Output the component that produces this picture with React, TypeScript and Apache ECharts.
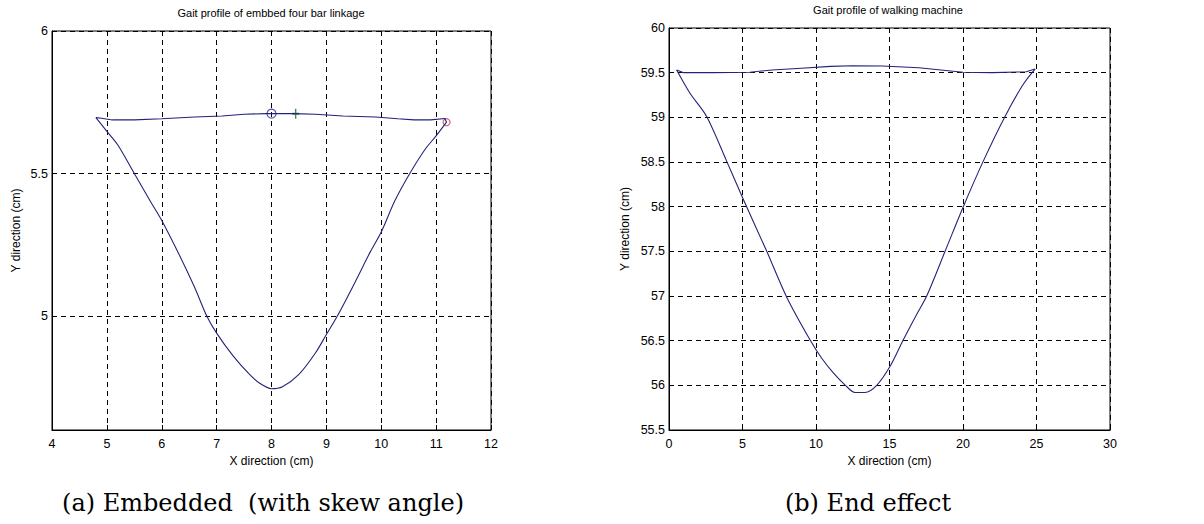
import React, { useEffect, useRef } from "react";
import * as echarts from "echarts";

// ---------- data ----------
const leftTitle = "Gait profile of embbed four bar linkage";
const rightTitle = "Gait profile of walking machine";
const xName = "X direction (cm)";
const yName = "Y direction (cm)";
const captionA = "(a) Embedded  (with skew angle)";
const captionB = "(b) End effect";

const leftYTicks = [5, 5.5, 6];

// left plot: swing (lower) curve, from left corner to right corner
const leftLowerCurve: [number, number][] = [
  [4.8, 5.696], [5.0, 5.648], [5.2, 5.6], [5.5, 5.5], [5.8, 5.4], [6.0, 5.335],
  [6.3, 5.222], [6.6, 5.1], [6.82, 5.0], [7.0, 4.94], [7.3, 4.86], [7.6, 4.795],
  [7.8, 4.762], [8.0, 4.745], [8.2, 4.752], [8.5, 4.795], [8.8, 4.87], [9.0, 4.935],
  [9.2, 5.0], [9.5, 5.11], [9.8, 5.225], [10.0, 5.295], [10.25, 5.405], [10.52, 5.5],
  [10.8, 5.585], [11.0, 5.632], [11.19, 5.68],
];
// left plot: stance (top) line, from right corner back to left corner
const leftTopLine: [number, number][] = [
  [11.19, 5.68], [11.16, 5.693], [10.9, 5.688], [10.6, 5.688], [10.3, 5.692],
  [9.9, 5.698], [9.3, 5.702], [8.8, 5.708], [8.4, 5.71], [7.9, 5.71], [7.5, 5.708],
  [7.1, 5.702], [6.6, 5.698], [6.0, 5.692], [5.5, 5.688], [5.1, 5.688], [4.9, 5.694],
  [4.8, 5.696],
];
const leftCircleMark: [number, number][] = [[8.0, 5.71]];
const leftPlusMark: [number, number][] = [[8.44, 5.71]];
const leftRedMark: [number, number][] = [[11.19, 5.68]];

// right plot
const rightLowerCurve: [number, number][] = [
  [0.52, 59.53], [1.43, 59.27], [2.56, 59.01], [3.92, 58.51], [5.06, 58.08],
  [6.65, 57.5], [8.0, 56.99], [9.59, 56.51], [10.4, 56.3],
  [11.18, 56.14], [12.0, 56.0], [12.65, 55.92], [13.33, 55.92], [14.13, 56.0],
  [15.03, 56.21], [15.94, 56.51], [16.8, 56.78], [17.53, 57.0], [18.78, 57.5],
  [20.02, 58.0], [21.38, 58.51], [22.86, 59.01], [24.1, 59.37],
  [24.9, 59.54],
];
const rightTopLine: [number, number][] = [
  [24.9, 59.54], [24.3, 59.51], [22.0, 59.5], [20.0, 59.505], [18.5, 59.53],
  [17.0, 59.555], [14.5, 59.575], [12.5, 59.578], [11.0, 59.57], [9.0, 59.55],
  [7.0, 59.53], [5.5, 59.505], [3.0, 59.5], [1.0, 59.5], [0.52, 59.53],
];

// ---------- styles ----------
const lineColor = "#23237a";
const sansFont = "Liberation Sans";
const serifFont = "DejaVu Serif";

const gridLine = { show: true, lineStyle: { color: "#000", type: [5, 4] as any, width: 1 } };
const axisLineStyle = { show: true, lineStyle: { color: "#000", width: 1 } };
const tickStyle = { show: true, inside: true, length: 5, lineStyle: { color: "#000" } };
const labelStyle = { color: "#000", fontSize: 12.5, fontFamily: sansFont };
const nameStyle = { color: "#000", fontSize: 12, fontFamily: sansFont };

export default function App() {
  const ref = useRef<HTMLDivElement>(null);
  useEffect(() => {
    if (!ref.current) return;
    const chart = echarts.init(ref.current, null, { renderer: "svg" });
    const lineSeries = (data: [number, number][], idx: number, smooth: number) => ({
      type: "line",
      xAxisIndex: idx,
      yAxisIndex: idx,
      data,
      showSymbol: false,
      symbol: "none",
      smooth,
      lineStyle: { color: lineColor, width: 1.1 },
      silent: true,
    });
    chart.setOption({
      animation: false,
      backgroundColor: "#fff",
      grid: [
        { left: 52, top: 31, width: 439, height: 399, show: true, borderColor: "#000", borderWidth: 1 },
        { left: 669, top: 28, width: 441, height: 402, show: true, borderColor: "#000", borderWidth: 1 },
      ],
      xAxis: [
        {
          type: "value", gridIndex: 0, min: 4, max: 12, interval: 1,
          axisLine: axisLineStyle, axisTick: tickStyle, splitLine: gridLine,
          axisLabel: { ...labelStyle, margin: 7 },
          name: xName, nameLocation: "middle", nameGap: 25, nameTextStyle: nameStyle,
        },
        {
          type: "value", gridIndex: 1, min: 0, max: 30, interval: 5,
          axisLine: axisLineStyle, axisTick: tickStyle, splitLine: gridLine,
          axisLabel: { ...labelStyle, margin: 7 },
          name: xName, nameLocation: "middle", nameGap: 25, nameTextStyle: nameStyle,
        },
      ],
      yAxis: [
        {
          type: "value", gridIndex: 0, min: 4.6, max: 6,
          axisLine: axisLineStyle,
          axisTick: { ...tickStyle, customValues: leftYTicks },
          splitLine: gridLine,
          axisLabel: { ...labelStyle, margin: 4, customValues: leftYTicks },
          name: yName, nameLocation: "middle", nameGap: 30, nameTextStyle: nameStyle,
        },
        {
          type: "value", gridIndex: 1, min: 55.5, max: 60, interval: 0.5,
          axisLine: axisLineStyle, axisTick: tickStyle, splitLine: gridLine,
          axisLabel: { ...labelStyle, margin: 4 },
          name: yName, nameLocation: "middle", nameGap: 38, nameTextStyle: nameStyle,
        },
      ],
      series: [
        lineSeries(leftLowerCurve, 0, 0.3),
        lineSeries(leftTopLine, 0, 0),
        lineSeries(rightLowerCurve, 1, 0.3),
        lineSeries(rightTopLine, 1, 0),
        {
          type: "scatter", xAxisIndex: 0, yAxisIndex: 0, data: leftCircleMark,
          symbol: "circle", symbolSize: 9,
          itemStyle: { color: "rgba(0,0,0,0)", borderColor: "#2a2aa0", borderWidth: 1.2 },
        },
        {
          type: "scatter", xAxisIndex: 0, yAxisIndex: 0, data: leftPlusMark,
          symbol: "path://M4,0L6,0L6,4L10,4L10,6L6,6L6,10L4,10L4,6L0,6L0,4L4,4Z",
          symbolSize: [7, 10], symbolKeepAspect: false,
          itemStyle: { color: "#1d6b1d" },
        },
        {
          type: "scatter", xAxisIndex: 0, yAxisIndex: 0, data: leftRedMark,
          symbol: "circle", symbolSize: 7,
          itemStyle: { color: "rgba(0,0,0,0)", borderColor: "#c0405a", borderWidth: 1.2 },
        },
      ],
      graphic: [
        {
          type: "text", x: 271, y: 13,
          style: { text: leftTitle, fontSize: 11, fontFamily: sansFont, fill: "#000", textAlign: "center", textVerticalAlign: "middle" },
        },
        {
          type: "text", x: 888, y: 10,
          style: { text: rightTitle, fontSize: 11, fontFamily: sansFont, fill: "#000", textAlign: "center", textVerticalAlign: "middle" },
        },
        {
          type: "text", x: 263, y: 503,
          style: { text: captionA, fontSize: 24, fontFamily: serifFont, fill: "#000", textAlign: "center", textVerticalAlign: "middle" },
        },
        {
          type: "text", x: 868, y: 503,
          style: { text: captionB, fontSize: 24, fontFamily: serifFont, fill: "#000", textAlign: "center", textVerticalAlign: "middle" },
        },
      ],
    });
    return () => chart.dispose();
  }, []);
  return (
    <div
      ref={ref}
      style={{ position: "fixed", left: 0, top: 0, width: 1204, height: 524, background: "#fff" }}
    />
  );
}
